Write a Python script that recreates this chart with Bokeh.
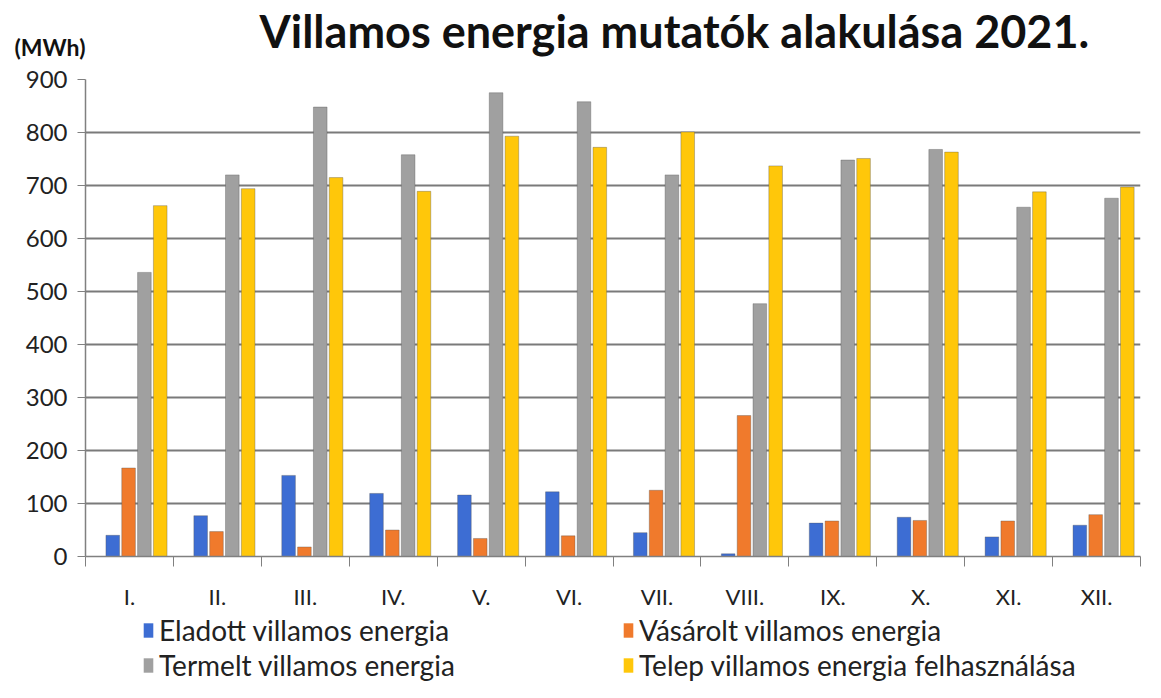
from bokeh.plotting import figure
from bokeh.models import (ColumnDataSource, FixedTicker, Legend, LegendItem, Label,
                          Range1d)
from bokeh.layouts import column
from bokeh.transform import dodge
from bokeh.embed import file_html
from bokeh.resources import INLINE

months = ["I.", "II.", "III.", "IV.", "V.", "VI.", "VII.", "VIII.", "IX.", "X.", "XI.", "XII."]
eladott = [40, 77, 153, 119, 116, 122, 45, 5, 63, 74, 37, 59]
vasarolt = [167, 47, 18, 50, 34, 39, 125, 266, 67, 68, 67, 79]
termelt = [536, 720, 848, 758, 875, 858, 720, 477, 748, 768, 659, 676]
telep = [662, 694, 715, 689, 793, 772, 801, 737, 751, 763, 688, 697]
series_names = ["Eladott villamos energia", "Vásárolt villamos energia",
                "Termelt villamos energia", "Telep villamos energia felhasználása"]
colors = ["#3D6DD3", "#F07A2C", "#A0A0A0", "#FFC70A"]
y_ticks = [0, 100, 200, 300, 400, 500, 600, 700, 800, 900]
title_text = "Villamos energia mutatók alakulása 2021."
unit_text = "(MWh)"

FONT = "Lato"
W = 1145


def blank(height):
    f = figure(width=W, height=height, output_backend="svg", toolbar_location=None,
               x_range=Range1d(0, 1), y_range=Range1d(0, 1),
               x_axis_type=None, y_axis_type=None, min_border=0,
               outline_line_color=None, background_fill_color="white",
               border_fill_color="white", frame_align=False)
    return f


# ---- title strip ----
top = blank(62)
top.add_layout(Label(x=259, y=32, x_units="screen", y_units="screen", text=title_text,
                     text_font=FONT, text_font_size="45px", text_font_style="bold",
                     text_color="#111111", text_baseline="alphabetic"))
top.add_layout(Label(x=14, y=16, x_units="screen", y_units="screen", text=unit_text,
                     text_font=FONT, text_font_size="23px", text_font_style="bold",
                     text_color="#111111", text_baseline="alphabetic"))

# ---- main chart ----
pos = [i + 1 for i in range(len(months))]
src = ColumnDataSource(dict(x=pos, eladott=eladott, vasarolt=vasarolt,
                            termelt=termelt, telep=telep))

p = figure(width=W, height=550, output_backend="svg", toolbar_location=None,
           x_range=Range1d(0.5, len(months) + 0.5), y_range=Range1d(0, 900),
           min_border_left=85, min_border_right=5, min_border_top=17,
           min_border_bottom=51, background_fill_color="white",
           border_fill_color="white", outline_line_color=None, frame_align=False)

keys = ["eladott", "vasarolt", "termelt", "telep"]
offsets = [-0.19, -0.01, 0.17, 0.35]
for k, off, c in zip(keys, offsets, colors):
    p.vbar(x=dodge("x", off), top=k, width=0.155, source=src,
           fill_color=c, line_color="#555555", line_width=0.6, line_alpha=0.6)

p.xaxis.ticker = FixedTicker(ticks=pos, minor_ticks=[i + 0.5 for i in range(len(months) + 1)])
p.xaxis.major_label_overrides = {pp: m for pp, m in zip(pos, months)}
p.xaxis.major_tick_line_color = None
p.xaxis.minor_tick_line_color = "#808080"
p.xaxis.minor_tick_out = 10
p.xaxis.minor_tick_in = 0
p.xaxis.axis_line_color = "#808080"
p.xaxis.axis_line_width = 1.5
p.xaxis.major_label_text_font = FONT
p.xaxis.major_label_text_font_size = "22px"
p.xaxis.major_label_text_color = "#222222"
p.xaxis.major_label_standoff = 16

p.yaxis.ticker = FixedTicker(ticks=y_ticks)
p.yaxis.major_tick_out = 8
p.yaxis.major_tick_in = 0
p.yaxis.major_tick_line_color = "#808080"
p.yaxis.minor_tick_line_color = None
p.yaxis.axis_line_color = "#808080"
p.yaxis.axis_line_width = 1.5
p.yaxis.major_label_text_font = FONT
p.yaxis.major_label_text_font_size = "24px"
p.yaxis.major_label_text_color = "#222222"
p.yaxis.major_label_standoff = 10

p.xgrid.grid_line_color = None
p.ygrid.ticker = FixedTicker(ticks=y_ticks)
p.ygrid.grid_line_color = "#7a7a7a"
p.ygrid.grid_line_width = 2

# ---- legend strip ----
leg = blank(70)
# legend swatches need a glyph; its single sample lies outside the strip's visible range
leg_src = ColumnDataSource(dict(x=[-5], top=[-5]))
leg_renderers = [leg.vbar(x="x", top="top", width=0.1, source=leg_src, fill_color=c,
                          line_color=None) for c in colors]

common = dict(label_text_font=FONT, label_text_font_size="28px", label_text_color="#222222",
              glyph_width=12, glyph_height=18, label_standoff=5, label_width=444,
              spacing=19, padding=0, margin=0, border_line_color=None,
              background_fill_alpha=0, orientation="horizontal")
leg1 = Legend(items=[LegendItem(label=series_names[i], renderers=[leg_renderers[i]]) for i in (0, 1)],
              location=(142, 35), **common)
leg2 = Legend(items=[LegendItem(label=series_names[i], renderers=[leg_renderers[i]]) for i in (2, 3)],
              location=(142, 0), **common)
leg.add_layout(leg1, "center")
leg.add_layout(leg2, "center")

layout = column(top, p, leg, spacing=0)
open("out.html", "w").write(file_html(layout, INLINE))
